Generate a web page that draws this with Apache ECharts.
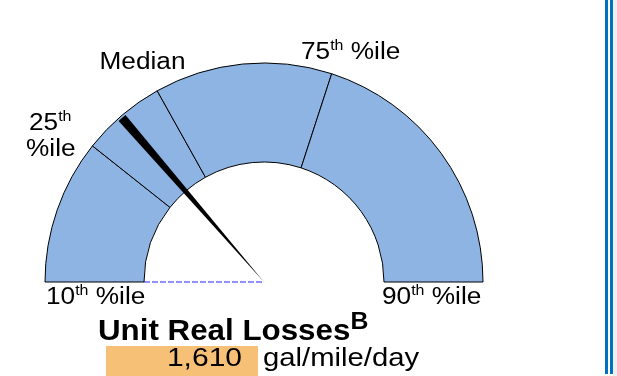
<!DOCTYPE html>
<html>
<head>
<meta charset="utf-8">
<script src="https://cdn.jsdelivr.net/npm/echarts@6/dist/echarts.min.js"></script>
<style>
  html, body { margin: 0; padding: 0; background: #ffffff; }
  #chart { width: 617px; height: 376px; }
</style>
</head>
<body>
<div id="chart"></div>
<script>
// Benchmark percentiles for unit real losses (gal/mile/day)
const percentileNames = ['10th', '25th', 'Median', '75th', '90th'];
const percentileValues = [600, 1390, 1850, 2820, 4300];
// This system's result
const unitRealLosses = 1610;
const unitLabel = 'gal/mile/day';
const titleText = 'Unit Real Losses';
const titleNote = 'B';

// Dial geometry
const CX = 264, CY = 282;
const R_OUT = 219, R_IN = 120, R_NEEDLE = 217;
const NEEDLE_DEG = 2.4;

const FONT = '"Liberation Sans", Arial, sans-serif';
const BAND_COLOR = '#8db4e2';

const p10 = percentileValues[0];
const p90 = percentileValues[percentileValues.length - 1];
const span = p90 - p10;

// Bands between neighbouring percentiles
const bandData = [];
for (let i = 0; i < percentileValues.length - 1; i++) {
  bandData.push({
    name: percentileNames[i] + '-' + percentileNames[i + 1],
    value: percentileValues[i + 1] - percentileValues[i]
  });
}

// Needle as a thin wedge centred on the result
const needleW = NEEDLE_DEG / 180 * span;
const before = unitRealLosses - p10 - needleW / 2;
const needleData = [
  { value: before, itemStyle: { color: 'rgba(0,0,0,0)' } },
  { value: needleW, itemStyle: { color: '#000000' } },
  { value: span - before - needleW, itemStyle: { color: 'rgba(0,0,0,0)' } }
];

// Text measuring for composed labels with superscripts
const measureCtx = document.createElement('canvas').getContext('2d');
function textWidth(t, size, weight) {
  measureCtx.font = (weight || 'normal') + ' ' + size + 'px ' + FONT;
  return measureCtx.measureText(t).width;
}
function composed(x, y, parts, scale) {
  const out = [];
  let cx = x;
  parts.forEach(p => {
    out.push({
      type: 'text', x: cx, y: y + (p.dy || 0), scaleX: scale, z: 20, silent: true,
      style: {
        text: p.text, fontSize: p.size, fontWeight: p.weight || 'normal',
        fontFamily: FONT, fill: '#000000', align: 'left', verticalAlign: 'middle'
      }
    });
    cx += textWidth(p.text, p.size, p.weight) * scale;
  });
  return out;
}

const LBL = 23, SUP = 14, SUP_DY = -6.5, SX = 1.14;
function pct(name, x, y) {
  const m = name.match(/^(\d+)(th)$/);
  if (!m) return composed(x, y, [{ text: name, size: LBL }], SX);
  return composed(x, y, [
    { text: m[1], size: LBL },
    { text: m[2], size: SUP, dy: SUP_DY },
    { text: ' %ile', size: LBL }
  ], SX);
}

const graphics = [];
graphics.push(...pct(percentileNames[0], 46, 298));
graphics.push(...pct(percentileNames[4], 382, 298));
graphics.push(...pct(percentileNames[2], 99.5, 63));
graphics.push(...pct(percentileNames[3], 301, 53));
// 25th label wraps onto two lines
graphics.push(...composed(29, 124, [
  { text: '25', size: LBL },
  { text: 'th', size: SUP, dy: SUP_DY }
], SX));
graphics.push(...composed(26, 149.5, [{ text: '%ile', size: LBL }], SX));

// Title with note marker
graphics.push(...composed(98, 331.5, [
  { text: titleText, size: 29, weight: 'bold' },
  { text: titleNote, size: 23, weight: 'bold', dy: -8.5 }
], 1.08));

// Result box
graphics.push({
  type: 'rect', z: 15, silent: true,
  shape: { x: 106, y: 346, width: 152, height: 30 },
  style: { fill: '#f6c177' }
});
graphics.push({
  type: 'text', x: 242, y: 359.5, scaleX: 1.2, z: 20, silent: true,
  style: {
    text: unitRealLosses.toLocaleString('en-US'), fontSize: 25, fontFamily: FONT,
    fill: '#000000', align: 'right', verticalAlign: 'middle'
  }
});
graphics.push({
  type: 'text', x: 263, y: 359.5, scaleX: 1.17, z: 20, silent: true,
  style: {
    text: unitLabel, fontSize: 25, fontFamily: FONT,
    fill: '#000000', align: 'left', verticalAlign: 'middle'
  }
});

// Dashed base line under the needle
graphics.push({
  type: 'line', z: 1, silent: true,
  shape: { x1: CX - R_IN, y1: CY, x2: CX, y2: CY },
  style: { stroke: '#6f6fff', lineWidth: 1.5, lineDash: [6, 2] }
});

// Page frame rules on the right
graphics.push({ type: 'rect', z: 5, silent: true, shape: { x: 613, y: 0, width: 4, height: 376 }, style: { fill: '#efefef' } });
graphics.push({ type: 'rect', z: 5, silent: true, shape: { x: 605, y: 0, width: 3, height: 374 }, style: { fill: '#0070c0' } });
graphics.push({ type: 'rect', z: 5, silent: true, shape: { x: 610, y: 0, width: 3, height: 374 }, style: { fill: '#0070c0' } });

const chart = echarts.init(document.getElementById('chart'), null, { renderer: 'canvas' });
chart.setOption({
  animation: false,
  backgroundColor: '#ffffff',
  series: [
    {
      type: 'pie', name: 'bands', silent: true, z: 2,
      center: [CX, CY], radius: [R_IN, R_OUT],
      startAngle: 180, endAngle: 0, clockwise: true,
      label: { show: false }, labelLine: { show: false },
      emphasis: { disabled: true },
      itemStyle: { color: BAND_COLOR, borderColor: '#000000', borderWidth: 1 },
      data: bandData
    },
    {
      type: 'pie', name: 'needle', silent: true, z: 3,
      center: [CX, CY], radius: [0, R_NEEDLE],
      startAngle: 180, endAngle: 0, clockwise: true,
      label: { show: false }, labelLine: { show: false },
      emphasis: { disabled: true },
      itemStyle: { borderWidth: 0 },
      data: needleData
    }
  ],
  graphic: graphics
});
</script>
</body>
</html>
